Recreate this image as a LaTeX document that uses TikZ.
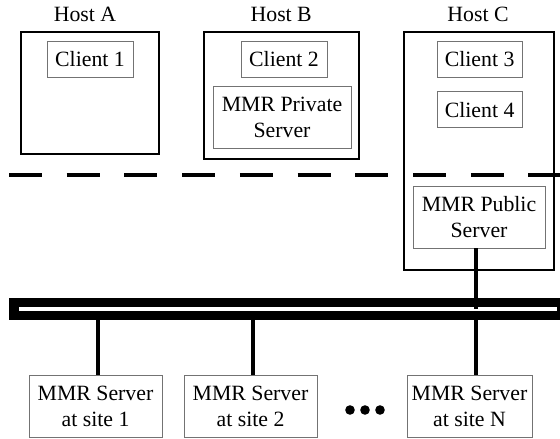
\documentclass[tikz,border=0pt]{standalone}
\usepackage{fontspec}
\setmainfont{Liberation Serif}
\tikzset{
  host/.style={draw,line width=1.1pt},
  unit/.style={draw=black!55,line width=0.7pt,align=center,inner sep=0pt,minimum height=0.9cm,font=\fontsize{15.5}{18.5}\selectfont},
  link/.style={line width=2.8pt}
}
\begin{document}
\begin{tikzpicture}
            \useasboundingbox (0,0) rectangle (14,-10.975);
            % hosts
            \node (hostA) at (2.125,-0.35) {\fontsize{15.5}{18.5}\selectfont Host A};
            \node (hostB) at (7.03,-0.35) {\fontsize{15.5}{18.5}\selectfont Host B};
            \node (hostC) at (11.95,-0.35) {\fontsize{15.5}{18.5}\selectfont Host C};
            \draw[host] (0.525,-0.8) rectangle (3.975,-3.85);
            \draw[host] (5.1,-0.8) rectangle (8.975,-3.975);
            \draw[host] (10.1,-0.8) rectangle (13.85,-6.75);
            \node[unit,minimum width=2.15cm] (c1) at (2.25,-1.475) {Client 1};
            \node[unit,minimum width=2.15cm] (c2) at (7.1,-1.475) {Client 2};
            \node[unit,minimum width=3.45cm,minimum height=1.55cm] (priv) at (7.05,-2.925) {MMR Private\\Server};
            \node[unit,minimum width=2.13cm] (c3) at (11.99,-1.475) {Client 3};
            \node[unit,minimum width=2.13cm] (c4) at (11.99,-2.74) {Client 4};
            \node[unit,minimum width=3.3cm,minimum height=1.55cm] (pub) at (11.975,-5.425) {MMR Public\\Server};
            % firewall
            \draw[line width=2.8pt,dash pattern=on 0.825cm off 0.618cm] (0.225,-4.375)--(14,-4.375);
            % network
            \coordinate (busL) at (0.225,-7.725);
            \coordinate (busR) at (14,-7.725);
            \coordinate (tapN) at (11.9,-7.725);
            \draw[line width=0.55cm] (busL)--(busR);
            \draw[white,line width=0.1cm] (0.475,-7.725)--(13.925,-7.725);
            \node[unit,minimum width=3.325cm,minimum height=1.55cm] (s1) at (2.3875,-10.15) {MMR Server\\at site 1};
            \node[unit,minimum width=3.325cm,minimum height=1.55cm] (s2) at (6.2625,-10.15) {MMR Server\\at site 2};
            \node[unit,minimum width=3.125cm,minimum height=1.55cm] (sN) at (11.7375,-10.15) {MMR Server\\at site N};
            \draw[link] (pub.south -| tapN)--(tapN);
            \draw[link] (s1.north -| 2.45,0)--(2.45,-8);
            \draw[link] (s2.north -| 6.325,0)--(6.325,-8);
            \draw[link] (sN.north -| tapN)--(11.9,-8);
            \foreach \x in {8.75,9.125,9.5}
                \fill (\x,-10.25) circle (0.12);
\end{tikzpicture}
\end{document}
